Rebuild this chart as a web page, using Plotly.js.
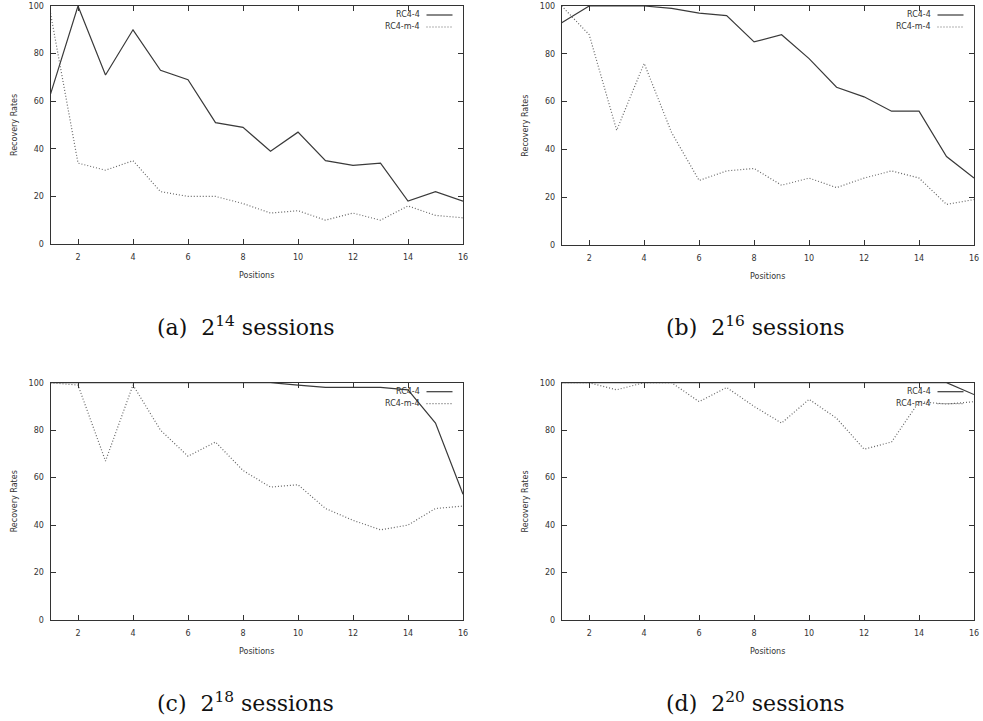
<!DOCTYPE html>
<html>
<head>
<meta charset="utf-8">
<script src="https://cdn.plot.ly/plotly-3.0.1.min.js"></script>
<style>html,body{margin:0;padding:0;background:#fff;}#chart{width:983px;height:721px;}</style>
</head>
<body>
<div id="chart"></div>
<script>
// ---- data ----
const positions = [1,2,3,4,5,6,7,8,9,10,11,12,13,14,15,16];
const seriesNames = ["RC4-4", "RC4-m-4"];
const captions = ["(a)  2<sup>14</sup> sessions", "(b)  2<sup>16</sup> sessions", "(c)  2<sup>18</sup> sessions", "(d)  2<sup>20</sup> sessions"];
const xTickVals = [2,4,6,8,10,12,14,16];
const yTickVals = [0,20,40,60,80,100];

const a_rc4 = [63,100,71,90,73,69,51,49,39,47,35,33,34,18,22,18];
const a_rc4m = [97,34,31,35,22,20,20,17,13,14,10,13,10,16,12,11];
const b_rc4 = [93,100,100,100,99,97,96,85,88,78,66,62,56,56,37,28];
const b_rc4m = [100,88,48,76,47,27,31,32,25,28,24,28,31,28,17,19];
const c_rc4 = [100,100,100,100,100,100,100,100,100,99,98,98,98,97,83,53];
const c_rc4m = [100,99,67,99,80,69,75,63,56,57,47,42,38,40,47,48];
const d_rc4 = [100,100,100,100,100,100,100,100,100,100,100,100,100,100,100,95];
const d_rc4m = [100,100,97,100,100,92,98,90,83,93,85,72,75,92,91,92];

// ---- layout helpers ----
const W = 983, H = 721;
const px = x => x / W;
const py = y => 1 - y / H;

const panels = [
  {ax:"", solid:a_rc4, dotted:a_rc4m, x0:50.5, x1:463, y0:6, y1:244, capX:245, capY:326},
  {ax:"2", solid:b_rc4, dotted:b_rc4m, x0:561.7, x1:974, y0:6, y1:245, capX:755, capY:326},
  {ax:"3", solid:c_rc4, dotted:c_rc4m, x0:50.5, x1:463, y0:382.7, y1:620, capX:245, capY:702},
  {ax:"4", solid:d_rc4, dotted:d_rc4m, x0:561.7, x1:974, y0:382.7, y1:620, capX:755, capY:702}
];

const tickFont = {family:"'DejaVu Sans', Verdana, sans-serif", size:8, color:"#333"};
const capFont = {family:"'DejaVu Serif', serif", size:22, color:"#111"};
const lineColor = "#333";

const traces = [];
const layout = {
  width: W, height: H,
  margin: {l:0, r:0, t:0, b:0},
  paper_bgcolor: "#fff", plot_bgcolor: "#fff",
  showlegend: false,
  annotations: [], shapes: []
};

panels.forEach((p, i) => {
  const xa = "x" + p.ax, ya = "y" + p.ax;
  traces.push({
    x: positions, y: p.solid, xaxis: xa, yaxis: ya, type: "scatter", mode: "lines",
    name: seriesNames[0], line: {color: "#3a3a3a", width: 1.2}
  });
  traces.push({
    x: positions, y: p.dotted, xaxis: xa, yaxis: ya, type: "scatter", mode: "lines",
    name: seriesNames[1], line: {color: "#666", width: 1.2, dash: "1px,2px"}
  });
  const xKey = "xaxis" + p.ax, yKey = "yaxis" + p.ax;
  layout[xKey] = {
    domain: [px(p.x0), px(p.x1)], anchor: ya, range: [1,16],
    tickvals: xTickVals, ticks: "inside", ticklen: 5, tickcolor: lineColor, tickwidth: 1,
    showline: true, linecolor: lineColor, linewidth: 1, mirror: "allticks",
    showgrid: false, zeroline: false, tickfont: tickFont, ticklabelstandoff: 5,
    fixedrange: true
  };
  layout[yKey] = {
    domain: [py(p.y1), py(p.y0)], anchor: xa, range: [0,100],
    tickvals: yTickVals, ticks: "inside", ticklen: 5, tickcolor: lineColor, tickwidth: 1,
    showline: true, linecolor: lineColor, linewidth: 1, mirror: "allticks",
    showgrid: false, zeroline: false, tickfont: tickFont, ticklabelstandoff: 4,
    fixedrange: true
  };
  // axis titles
  layout.annotations.push({
    xref: "paper", yref: "paper", x: px(p.x0 - 36.5), y: py((p.y0 + p.y1) / 2),
    xanchor: "center", yanchor: "middle", textangle: -90, showarrow: false,
    text: "Recovery Rates", font: tickFont
  });
  layout.annotations.push({
    xref: "paper", yref: "paper", x: px((p.x0 + p.x1) / 2), y: py(p.y1 + 31),
    xanchor: "center", yanchor: "middle", showarrow: false,
    text: "Positions", font: tickFont
  });
  // legend (gnuplot-style: text then sample)
  const rows = [9, 21];
  seriesNames.forEach((nm, k) => {
    layout.annotations.push({
      xref: "paper", yref: "paper", x: px(p.x1 - 41), y: py(p.y0 + rows[k]),
      xanchor: "right", yanchor: "middle", showarrow: false, text: nm, font: tickFont
    });
    layout.shapes.push({
      type: "line", xref: "paper", yref: "paper",
      x0: px(p.x1 - 36.5), x1: px(p.x1 - 10.5), y0: py(p.y0 + rows[k]), y1: py(p.y0 + rows[k]),
      line: k === 0 ? {color: "#3a3a3a", width: 1.2} : {color: "#666", width: 1.2, dash: "1px,2px"}
    });
  });
  // caption
  layout.annotations.push({
    xref: "paper", yref: "paper", x: px(p.capX), y: py(p.capY),
    xanchor: "center", yanchor: "middle", showarrow: false,
    text: captions[i], font: capFont
  });
});

Plotly.newPlot("chart", traces, layout, {displayModeBar: false, staticPlot: true});
</script>
</body>
</html>
